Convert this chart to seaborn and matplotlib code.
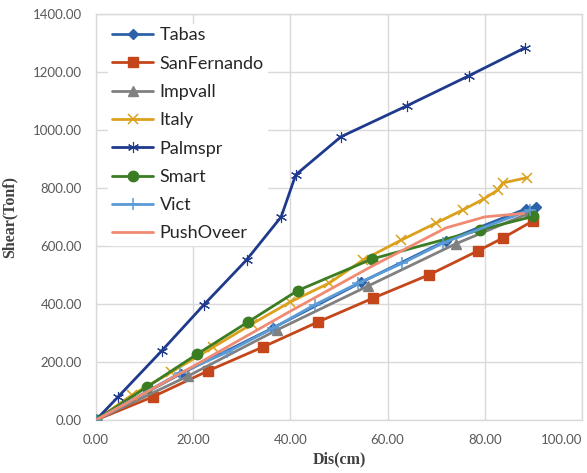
import matplotlib
matplotlib.use("Agg")
import matplotlib.pyplot as plt
import seaborn as sns
import pandas as pd

# ---- data ----
tabas_x = [0, 17.5, 36.5, 54.5, 72.0, 88.5, 90.5]
tabas_y = [0, 160, 318, 474, 618, 728, 735]

sanf_x = [0, 11.7, 23.0, 34.4, 45.7, 57.0, 68.5, 78.6, 83.7, 89.9]
sanf_y = [0, 80, 169, 252, 338, 420, 500, 583, 627, 686]

impv_x = [0, 19.0, 37.2, 56.0, 74.0, 89.0]
impv_y = [0, 152, 310, 462, 607, 712]

italy_x = [0, 7.4, 15.5, 24.0, 32.0, 40.0, 48.0, 55.0, 62.8, 70.0, 75.5, 79.8, 82.7, 83.7, 88.7]
italy_y = [0, 86, 165, 250, 330, 407, 472, 552, 620, 679, 724, 762, 793, 817, 835]

palm_x = [0, 4.5, 13.5, 22.2, 31.0, 38.1, 41.1, 50.4, 64.0, 76.7, 88.3]
palm_y = [0, 79, 238, 397, 552, 700, 845, 976, 1083, 1186, 1283]

smart_x = [0, 10.5, 20.8, 31.3, 41.5, 56.8, 79.0, 90.0]
smart_y = [0, 114, 227, 338, 446, 555, 655, 702]

vict_x = [0, 17.3, 27.0, 36.5, 45.0, 54.0, 63.0, 71.4, 89.3]
vict_y = [0, 162, 234, 317, 397, 472, 540, 610, 724]

push_x = [0, 20.0, 40.0, 57.0, 72.0, 80.0, 88.0]
push_y = [0, 185, 375, 532, 662, 700, 712]

series_names = ["Tabas", "SanFernando", "Impvall", "Italy", "Palmspr", "Smart", "Vict", "PushOveer"]
x_ticks = [0, 20, 40, 60, 80, 100]
y_ticks = [0, 200, 400, 600, 800, 1000, 1200, 1400]

series = [
    (tabas_x, tabas_y, "#2E62A8", "D", 5.5, 1.0),
    (sanf_x, sanf_y, "#C4461A", "s", 7, 1.0),
    (impv_x, impv_y, "#808080", "^", 7, 1.0),
    (italy_x, italy_y, "#DBA11C", "x", 7, 1.1),
    (palm_x, palm_y, "#1F3A8C", (6, 2, 0), 8, 0.8),
    (smart_x, smart_y, "#3B7D23", "o", 7.5, 1.0),
    (vict_x, vict_y, "#5B9BD5", "+", 8, 1.1),
    (push_x, push_y, "#F08B73", None, 0, 1.0),
]

sns.set_theme(style="white")
plt.rcParams["font.family"] = ["Lato", "DejaVu Sans"]

fig = plt.figure(figsize=(5.87, 4.73), dpi=100)
ax = fig.add_axes([0.1635, 0.112, 0.8280, 0.859])

for name, (xs, ys, col, mk, ms, mew) in zip(series_names, series):
    df = pd.DataFrame({"x": xs, "y": ys})
    kw = dict(marker=mk, markersize=ms, markeredgecolor=col, markeredgewidth=mew) if mk else {}
    sns.lineplot(data=df, x="x", y="y", ax=ax, color=col, linewidth=2.0, sort=False,
                 label=name, estimator=None, zorder=3, **kw)

ax.set_xlim(0, 100)
ax.set_ylim(0, 1400)
ax.set_xticks(x_ticks)
ax.set_yticks(y_ticks)
ax.set_xticklabels([f"{v:.2f}" for v in x_ticks])
ax.set_yticklabels([f"{v:.2f}" for v in y_ticks])
ax.tick_params(axis="both", labelsize=9.5, colors="#595959", length=0, pad=10)
xl = ax.get_xticklabels()
xl[-1].set_horizontalalignment("right")
ax.grid(True, color="#D9D9D9", linewidth=1.0)
ax.set_axisbelow(True)
for s in ax.spines.values():
    s.set_color("#D9D9D9")
    s.set_linewidth(1.0)

ax.set_xlabel("Dis(cm)", family=["Liberation Serif"], fontweight="bold", fontsize=11.5,
              color="#404040", labelpad=4)
ax.set_ylabel("Shear(Tonf)", family=["Liberation Serif"], fontweight="bold", fontsize=11.5,
              color="#404040", labelpad=11)

leg = ax.legend(loc="upper left", bbox_to_anchor=(0.025, 0.975), frameon=True, fontsize=13,
                handlelength=2.3, labelspacing=0.68, borderaxespad=0.0, handletextpad=0.35,
                borderpad=0.2)
leg.get_frame().set_facecolor("white")
leg.get_frame().set_edgecolor("white")
leg.get_frame().set_alpha(1.0)
leg.set_zorder(1.5)
for t in leg.get_texts():
    t.set_color("#262626")

fig.savefig("out.png", dpi=100)
